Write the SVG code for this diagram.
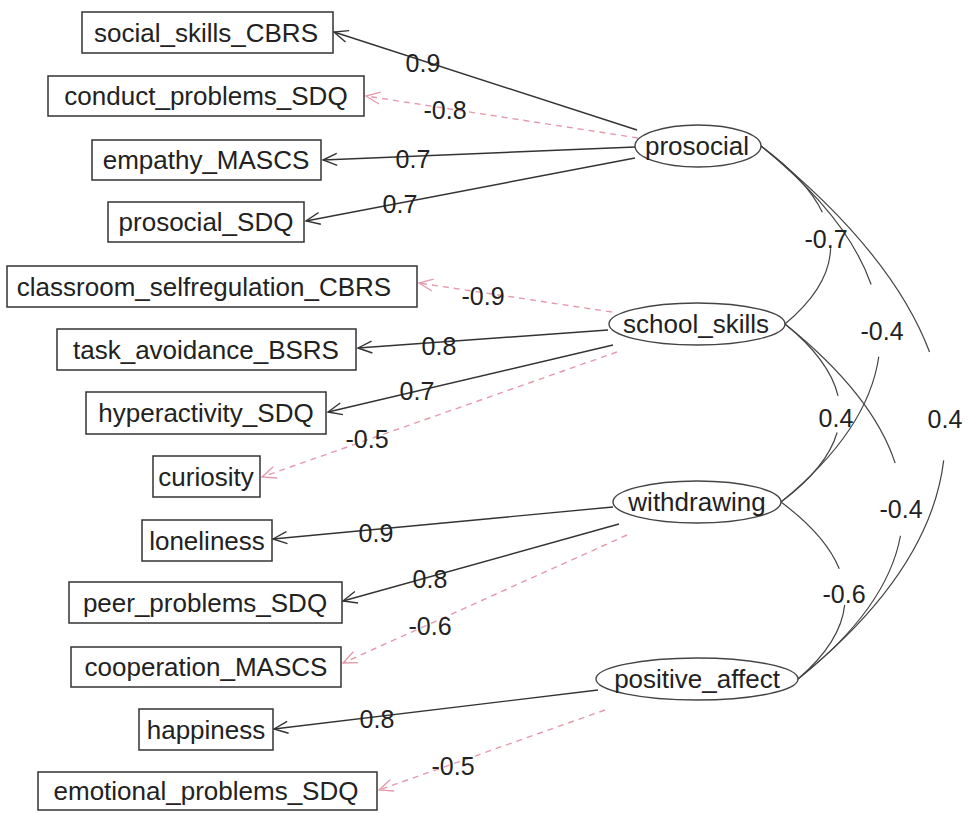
<svg xmlns="http://www.w3.org/2000/svg" width="968" height="813" viewBox="0 0 968 813">
<style>
  .box rect { fill: #fff; stroke: #333; stroke-width: 1.5; }
  .lat ellipse { fill: #fff; stroke: #444; stroke-width: 1.4; }
  text { font-family: "Liberation Sans", Arial, sans-serif; fill: #222; }
  .nt { font-size: 26px; text-anchor: middle; }
  .lab { font-size: 25px; text-anchor: middle; }
  .pos { fill: none; stroke: #333; stroke-width: 1.4; }
  .neg { fill: none; stroke: #e59aab; stroke-width: 1.4; stroke-dasharray: 6 5; }
  .cor { fill: none; stroke: #444; stroke-width: 1.2; stroke-dasharray: 41.5 17 200; }
</style>
<defs>
  <marker id="ah" viewBox="-16 -8 18 16" refX="0" refY="0" markerWidth="18" markerHeight="16" markerUnits="userSpaceOnUse" orient="auto">
    <path d="M-14,-6 L0,0 L-14,6" fill="none" stroke="#333" stroke-width="1.4"/>
  </marker>
  <marker id="ahn" viewBox="-16 -8 18 16" refX="0" refY="0" markerWidth="18" markerHeight="16" markerUnits="userSpaceOnUse" orient="auto">
    <path d="M-14,-6 L0,0 L-14,6" fill="none" stroke="#e59aab" stroke-width="1.3"/>
  </marker>
</defs>
<rect width="968" height="813" fill="#fff"/>

<g id="connectors">
  <line class="pos" x1="637" y1="130" x2="334" y2="32" marker-end="url(#ah)"/>
  <line class="neg" x1="638" y1="138" x2="366" y2="96" marker-end="url(#ahn)"/>
  <line class="pos" x1="635" y1="147" x2="323" y2="160" marker-end="url(#ah)"/>
  <line class="pos" x1="635" y1="158" x2="306" y2="221" marker-end="url(#ah)"/>

  <line class="neg" x1="612" y1="312" x2="419" y2="283" marker-end="url(#ahn)"/>
  <line class="pos" x1="608" y1="330" x2="358" y2="348" marker-end="url(#ah)"/>
  <line class="pos" x1="613" y1="345" x2="328" y2="412" marker-end="url(#ah)"/>
  <line class="neg" x1="617" y1="352" x2="262" y2="477" marker-end="url(#ahn)"/>

  <line class="pos" x1="613" y1="507" x2="273" y2="539" marker-end="url(#ah)"/>
  <line class="pos" x1="619" y1="524" x2="343" y2="601" marker-end="url(#ah)"/>
  <line class="neg" x1="627" y1="535" x2="343" y2="663" marker-end="url(#ahn)"/>

  <line class="pos" x1="598" y1="690" x2="274" y2="729" marker-end="url(#ah)"/>
  <line class="neg" x1="605" y1="710" x2="379" y2="790" marker-end="url(#ahn)"/>

  <path class="cor" pathLength="100" d="M761,146 Q887,239 785,324"/>
  <path class="cor" pathLength="100" d="M761,146 Q989,332 781,502"/>
  <path class="cor" pathLength="100" d="M761,146 Q1110,427 798,679"/>
  <path class="cor" pathLength="100" d="M785,324 Q897,415 781,502"/>
  <path class="cor" pathLength="100" d="M785,324 Q1014,508 798,679"/>
  <path class="cor" pathLength="100" d="M781,502 Q900,591 798,679"/>

  <text class="lab" x="423" y="72">0.9</text>
  <text class="lab" x="445" y="119">-0.8</text>
  <text class="lab" x="413" y="168">0.7</text>
  <text class="lab" x="400" y="213">0.7</text>
  <text class="lab" x="483" y="305">-0.9</text>
  <text class="lab" x="439" y="355">0.8</text>
  <text class="lab" x="417" y="400">0.7</text>
  <text class="lab" x="367" y="448">-0.5</text>
  <text class="lab" x="376" y="542">0.9</text>
  <text class="lab" x="430" y="588">0.8</text>
  <text class="lab" x="430" y="635">-0.6</text>
  <text class="lab" x="377" y="728">0.8</text>
  <text class="lab" x="453" y="775">-0.5</text>
  <text class="lab" x="826" y="248">-0.7</text>
  <text class="lab" x="882" y="340">-0.4</text>
  <text class="lab" x="836" y="427">0.4</text>
  <text class="lab" x="945" y="428">0.4</text>
  <text class="lab" x="901" y="518">-0.4</text>
  <text class="lab" x="844" y="603">-0.6</text>
</g>

<g id="social_skills_CBRS" class="box"><rect x="82" y="12" width="251" height="41"/><text class="nt" x="206" y="42">social_skills_CBRS</text></g>
<g id="conduct_problems_SDQ" class="box"><rect x="48" y="76" width="316" height="40"/><text class="nt" x="206" y="105">conduct_problems_SDQ</text></g>
<g id="empathy_MASCS" class="box"><rect x="92" y="140" width="229" height="40"/><text class="nt" x="206" y="169">empathy_MASCS</text></g>
<g id="prosocial_SDQ" class="box"><rect x="108" y="202" width="196" height="40"/><text class="nt" x="206" y="231">prosocial_SDQ</text></g>
<g id="classroom_selfregulation_CBRS" class="box"><rect x="7" y="266" width="410" height="41"/><text class="nt" x="204" y="296">classroom_selfregulation_CBRS</text></g>
<g id="task_avoidance_BSRS" class="box"><rect x="57" y="329" width="299" height="41"/><text class="nt" x="206" y="359">task_avoidance_BSRS</text></g>
<g id="hyperactivity_SDQ" class="box"><rect x="86" y="392" width="240" height="42"/><text class="nt" x="206" y="422">hyperactivity_SDQ</text></g>
<g id="curiosity" class="box"><rect x="153" y="456" width="107" height="41"/><text class="nt" x="206" y="486">curiosity</text></g>
<g id="loneliness" class="box"><rect x="142" y="520" width="130" height="41"/><text class="nt" x="207" y="550">loneliness</text></g>
<g id="peer_problems_SDQ" class="box"><rect x="69" y="582" width="273" height="41"/><text class="nt" x="205" y="612">peer_problems_SDQ</text></g>
<g id="cooperation_MASCS" class="box"><rect x="71" y="647" width="270" height="40"/><text class="nt" x="206" y="676">cooperation_MASCS</text></g>
<g id="happiness" class="box"><rect x="139" y="709" width="134" height="41"/><text class="nt" x="206" y="739">happiness</text></g>
<g id="emotional_problems_SDQ" class="box"><rect x="38" y="772" width="339" height="38"/><text class="nt" x="206" y="800">emotional_problems_SDQ</text></g>

<g id="prosocial" class="lat"><ellipse cx="698" cy="146" rx="63" ry="21"/><text class="nt" x="697" y="155">prosocial</text></g>
<g id="school_skills" class="lat"><ellipse cx="697" cy="324" rx="88" ry="21"/><text class="nt" x="696" y="333">school_skills</text></g>
<g id="withdrawing" class="lat"><ellipse cx="697" cy="502" rx="84" ry="21"/><text class="nt" x="697" y="511">withdrawing</text></g>
<g id="positive_affect" class="lat"><ellipse cx="697" cy="679" rx="101" ry="21"/><text class="nt" x="697" y="688">positive_affect</text></g>
</svg>
